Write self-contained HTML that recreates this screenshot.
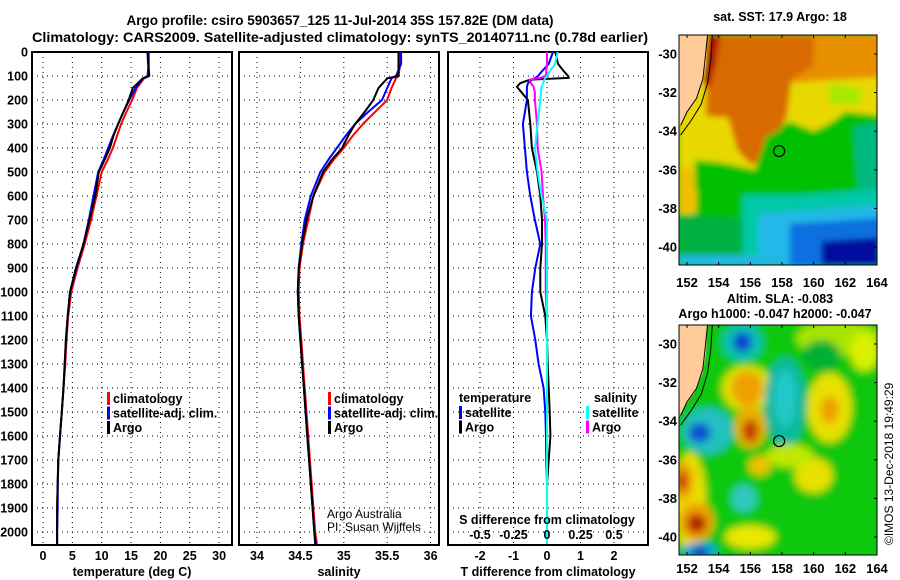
<!DOCTYPE html>
<html><head><meta charset="utf-8"><style>
html,body{margin:0;padding:0;background:#fff;}
svg{display:block;font-family:"Liberation Sans",Arial,sans-serif;font-weight:bold;}
</style></head><body>
<svg id="fig" width="900" height="580" viewBox="0 0 900 580" xmlns="http://www.w3.org/2000/svg">
<defs>
<filter id="blur3" x="-10%" y="-10%" width="120%" height="120%"><feGaussianBlur stdDeviation="3"/></filter>
<filter id="blur5" x="-20%" y="-20%" width="140%" height="140%"><feGaussianBlur stdDeviation="4"/></filter>
<clipPath id="clipTop"><rect x="679" y="35" width="198" height="230"/></clipPath>
<clipPath id="clipBot"><rect x="679" y="325" width="198" height="230"/></clipPath>
</defs>
<text x="340" y="25" font-size="13.5" text-anchor="middle">Argo profile: csiro 5903657_125 11-Jul-2014 35S 157.82E (DM data)</text>
<text x="340" y="42" font-size="13.5" text-anchor="middle" textLength="616" lengthAdjust="spacingAndGlyphs">Climatology: CARS2009. Satellite-adjusted climatology: synTS_20140711.nc (0.78d earlier)</text>
<g id="panels"></g>
<g id="maps"></g>
<text transform="translate(893,545) rotate(-90)" font-size="12" font-weight="normal">©IMOS 13-Dec-2018 19:49:29</text>
</svg>
<script>
// ---------- profile data ----------
const depths = [0,50,100,110,150,200,250,300,350,400,450,500,600,700,800,900,1000,1100,1200,1300,1400,1500,1600,1700,1800,1900,2000,2050];
const tempArgo = [17.8,17.9,18.1,17.0,15.3,14.6,13.7,12.8,12.0,11.4,10.5,9.5,8.9,7.9,6.9,5.6,4.6,4.2,3.9,3.7,3.5,3.2,2.9,2.6,2.5,2.4,2.4,2.4];
const tempClim = [17.9,18.0,18.1,17.2,16.0,15.2,14.2,13.3,12.6,11.9,11.0,10.0,9.1,8.2,7.1,5.9,4.8,4.3,4.0,3.8,3.5,3.2,2.9,2.6,2.5,2.4,2.4,2.4];
const tempSat  = [18.0,18.0,17.8,17.0,15.8,14.7,13.7,12.8,11.9,11.1,10.3,9.4,8.6,7.8,6.9,5.7,4.6,4.2,3.9,3.7,3.5,3.2,2.9,2.6,2.5,2.5,2.4,2.4];
const salArgo = [35.63,35.63,35.63,35.50,35.40,35.34,35.24,35.13,35.05,34.98,34.86,34.76,34.65,34.57,34.52,34.48,34.47,34.48,34.50,34.52,34.54,34.56,34.58,34.60,34.62,34.64,34.66,34.67];
const salClim = [35.65,35.65,35.63,35.60,35.55,35.50,35.36,35.22,35.10,35.00,34.88,34.78,34.65,34.59,34.53,34.49,34.48,34.49,34.51,34.53,34.55,34.57,34.59,34.61,34.63,34.65,34.67,34.69];
const salSat  = [35.66,35.66,35.60,35.55,35.50,35.44,35.28,35.13,35.02,34.92,34.82,34.73,34.62,34.55,34.51,34.48,34.47,34.48,34.50,34.52,34.54,34.56,34.58,34.60,34.62,34.64,34.66,34.68];
const diffDepths = [0,50,80,100,108,115,130,145,170,200,300,400,500,600,700,800,900,1000,1100,1200,1300,1400,1500,1600,1700,1800,1900,2000,2050];
const dTempArgo = [0.25,0.33,0.5,0.63,0.65,-0.5,-0.8,-0.9,-0.75,-0.57,-0.5,-0.45,-0.3,-0.2,-0.15,-0.15,-0.2,-0.2,-0.05,0,0.02,0.05,0.08,0.1,0.05,0,0,0,0];
const dTempSat  = [0.18,0.05,-0.15,-0.27,-0.35,-0.45,-0.57,-0.6,-0.6,-0.6,-0.72,-0.66,-0.6,-0.5,-0.36,-0.2,-0.35,-0.45,-0.48,-0.35,-0.25,-0.1,-0.05,-0.03,-0.02,0,0,0,0];
const dSalArgo  = [0,0,-0.005,-0.01,-0.05,-0.13,-0.12,-0.1,-0.09,-0.09,-0.075,-0.07,-0.04,-0.03,-0.015,-0.01,-0.01,-0.01,0,0,0,0,0,0,0,0,0,0,0];
const dSalSat   = [0.08,0.06,0.02,0,-0.01,-0.02,-0.03,-0.04,-0.045,-0.05,-0.07,-0.09,-0.07,-0.04,0,0,0,0,0,0,0,0,0,0,0,0,0,0,0];
const depthTicks = [0,100,200,300,400,500,600,700,800,900,1000,1100,1200,1300,1400,1500,1600,1700,1800,1900,2000];
const tempTicks = [0,5,10,15,20,25,30];
const salTicks = [34,34.5,35,35.5,36];
const salTickLabels = ["34","34.5","35","35.5","36"];
const dTempTicks = [-2,-1,0,1,2];
const dSalTicks = [-0.5,-0.25,0,0.25,0.5];
const dSalTickLabels = ["-0.5","-0.25","0","0.25","0.5"];

const NS="http://www.w3.org/2000/svg";
function mk(tag, attrs, parent){const e=document.createElementNS(NS,tag);for(const k in attrs)e.setAttribute(k,attrs[k]);parent.appendChild(e);return e;}
const yD = d => 52 + d*0.24;
const Y0=52, Y1=545;
const panels=document.getElementById('panels');

function panel(name, x0, x1, xScale, ticks, labels, xTitle, showY){
  const g=mk('g',{},panels);
  
  
  depthTicks.forEach(d=>{ if(d===0) return;
    const l=mk('line',{x1:x0,x2:x1,y1:yD(d),y2:yD(d),stroke:'#000','stroke-width':1,'stroke-dasharray':'1,4'},g);
    
    
  });
  ticks.forEach((t,i)=>{
    const x=xScale(t);
    const l=mk('line',{x1:x,x2:x,y1:Y0,y2:Y1,stroke:'#000','stroke-width':1,'stroke-dasharray':'1,4'},g);
    
    
    if(labels){
      const t2=mk('text',{x:x,y:560,'font-size':12.5,'text-anchor':'middle'},g);
      t2.textContent=labels[i];
      
      
    }
  });
  const fr=mk('rect',{x:x0,y:Y0,width:x1-x0,height:Y1-Y0,fill:'none',stroke:'#000','stroke-width':2},g);
  
  
  const tt=mk('text',{x:(x0+x1)/2,y:576,'font-size':12.5,'text-anchor':'middle'},g);
  tt.textContent=xTitle;
  
  
  if(showY){
    depthTicks.forEach(d=>{
      const t=mk('text',{x:28,y:yD(d)+4.5,'font-size':12.5,'text-anchor':'end'},g);
      t.textContent=String(d);
      
      
    });
  }
  return g;
}
function series(g, name, xs, ds, xScale, color){
  const pts=xs.map((v,i)=>xScale(v).toFixed(1)+','+yD(ds[i]).toFixed(1)).join(' ');
  const p=mk('polyline',{points:pts,fill:'none',stroke:color,'stroke-width':2,'stroke-linejoin':'round'},g);
  
  
}
function legend(g, x, y, items){
  items.forEach((it,i)=>{
    const yy=y+i*14.5;
    const r=mk('rect',{x:x,y:yy-10,width:3,height:13,fill:it[1]},g);
    
    
    if(it[0]){
      const t=mk('text',{x:x+6,y:yy+1,'font-size':12.5},g);
      t.textContent=it[0];
      
      
    }
  });
}

const xT = v => 43 + v*5.87;
const g1=panel('temperature-panel',32,232,xT,tempTicks,tempTicks.map(String),'temperature (deg C)',true);
series(g1,'temp-climatology-line',tempClim,depths,xT,'#f00');
series(g1,'temp-satellite-line',tempSat,depths,xT,'#00f');
series(g1,'temp-argo-line',tempArgo,depths,xT,'#000');
legend(g1,107,402,[['climatology','#f00'],['satellite-adj. clim.','#00f'],['Argo','#000']]);

const xS = v => 257 + (v-34)*86.8;
const g2=panel('salinity-panel',239,439,xS,salTicks,salTickLabels,'salinity',false);
series(g2,'sal-climatology-line',salClim,depths,xS,'#f00');
series(g2,'sal-satellite-line',salSat,depths,xS,'#00f');
series(g2,'sal-argo-line',salArgo,depths,xS,'#000');
legend(g2,328,402,[['climatology','#f00'],['satellite-adj. clim.','#00f'],['Argo','#000']]);
const cr1=mk('text',{x:327,y:518,'font-size':12,'font-weight':'normal'},g2);cr1.textContent='Argo Australia';


const cr2=mk('text',{x:327,y:531,'font-size':12,'font-weight':'normal'},g2);cr2.textContent='PI: Susan Wijffels';



const xDT = v => 547 + v*33.5;
const xDS = v => 547 + v*134;
const g3=panel('difference-panel',448,648,xDT,dTempTicks,dTempTicks.map(String),'T difference from climatology',false);
series(g3,'dtemp-satellite-line',dTempSat,diffDepths,xDT,'#00f');
series(g3,'dtemp-argo-line',dTempArgo,diffDepths,xDT,'#000');
series(g3,'dsal-argo-line',dSalArgo,diffDepths,xDS,'#f0f');
series(g3,'dsal-satellite-line',dSalSat,diffDepths,xDS,'#0ff');
(function(){
  const t=mk('text',{x:459,y:402,'font-size':12.5},g3);t.textContent='temperature';
  
  
  const s=mk('text',{x:594,y:402,'font-size':12.5},g3);s.textContent='salinity';
  
  
})();
legend(g3,459,416,[['satellite','#00f'],['Argo','#000']]);
legend(g3,586,416,[['satellite','#0ff'],['Argo','#f0f']]);
(function(){
  const t=mk('text',{x:547,y:524,'font-size':12.5,'text-anchor':'middle'},g3);t.textContent='S difference from climatology';
  
  
  dSalTicks.forEach((v,i)=>{
    const l=mk('text',{x:xDS(v),y:539,'font-size':12.5,'text-anchor':'middle'},g3);l.textContent=dSalTickLabels[i];
    
    
  });
})();

// ---------- maps ----------
const maps=document.getElementById('maps');
const lonTicks=[152,154,156,158,160,162,164];
const latTicks=[-30,-32,-34,-36,-38,-40];
const sstPolys=[
 ['#e8d800',[[151.5,-29],[164.2,-29],[164.2,-33.2],[162,-33],[161,-33.6],[160,-34],[158.5,-33.5],[157,-34],[156.3,-36],[154,-35.6],[152.5,-35.5],[152.5,-38.3],[151.5,-38.3]]],
 ['#f0c000',[[151.5,-35.8],[152.6,-36],[152.6,-38.2],[151.5,-38.2]]],
 ['#e89000',[[158,-29],[164.2,-29],[164.2,-31.2],[160,-31.4],[158.5,-31.5]]],
 ['#d86a00',[[153.3,-29],[160,-29],[160,-30.6],[158.6,-31.3],[158.3,-33.2],[157.6,-34.4],[157,-35.6],[156,-35.7],[155.2,-35],[154.6,-33.3],[153.2,-33.2]]],
 ['#b01000',[[153.3,-29],[154.1,-29],[153.8,-30.5],[153.4,-31.8],[153.0,-31.5]]],
 ['#a8e800',[[161,-31.5],[163,-31.8],[163,-32.6],[161,-32.6]]],
 ['#00c000',[[152.5,-35.8],[156.2,-36.2],[157,-34.3],[158.5,-33.6],[160,-34.2],[161,-33.8],[162,-33.2],[164.2,-33.4],[164.2,-37.5],[159,-38],[156,-37.5],[153.5,-37],[152.5,-37]]],
 ['#00b880',[[162.5,-33.8],[164.2,-33.5],[164.2,-37.5],[162.8,-37.5]]],
 ['#00c8a8',[[155.5,-37.3],[159,-37.3],[164.2,-37],[164.2,-41],[155.5,-41]]],
 ['#20b8e8',[[156.5,-38.3],[164.2,-37.8],[164.2,-41],[156.5,-41]]],
 ['#1070e0',[[158.5,-38.8],[164.2,-38.5],[164.2,-41],[158.5,-41]]],
 ['#0010a0',[[160.5,-39.7],[164.2,-39.5],[164.2,-41],[160.5,-41]]],
 ['#20b8e0',[[151.5,-40.4],[158,-40.4],[158,-41],[151.5,-41]]],
 ['#00b040',[[151.5,-38.3],[155.5,-38.5],[155.5,-40.4],[151.5,-40.4]]]
];
const slaBlobs=[
 [161.5,-29.7,2.6,0.9,'#a8e400'],[163.2,-30.4,0.9,1.0,'#d8f000'],[160.5,-30.6,1.2,0.8,'#00b030'],
 [155.5,-29.9,1.3,1.0,'#10c0b0'],[155.5,-29.9,0.6,0.5,'#1040d0'],
 [155.8,-32.3,1.6,1.2,'#e0e000'],[155.8,-32.3,1.0,0.9,'#f0a000'],
 [156,-34.3,1.0,1.1,'#e8b000'],[156,-34.5,0.5,0.6,'#c04000'],
 [158.2,-33,1.3,2.3,'#10b8a0'],[158.2,-32.8,0.7,1.5,'#20c8c8'],
 [153.3,-34.5,1.6,1.2,'#20c0c0'],[152.8,-34.6,0.7,0.5,'#1050d0'],
 [152.2,-38.2,1.0,2.6,'#e8e000'],[151.8,-37.1,0.6,1.0,'#f0a000'],[151.7,-37.1,0.3,0.5,'#c02000'],
 [152.6,-39.2,1.1,1.0,'#f0a000'],[152.6,-39.3,0.6,0.5,'#b02000'],
 [161,-33.3,1.4,1.8,'#e8e000'],[161,-33.4,0.6,0.7,'#f0a000'],
 [160,-36.8,1.2,0.9,'#e8e000'],[156.6,-36.3,0.7,0.5,'#f0c000'],
 [155.6,-38,0.8,0.7,'#30c8c0'],[156,-40,1.6,0.6,'#e8e800'],[158.5,-35.8,1.5,0.6,'#c0e800'],
 [152.8,-40.7,1.1,0.4,'#10a0e0'],[152.8,-40.8,0.5,0.3,'#1030c0']
];
const landPoly=[[151.4,-28.9],[153.3,-28.9],[153.2,-30.5],[153.0,-31.5],[152.5,-32.5],[151.9,-33.2],[151.4,-33.9]];
const coastLine=[[153.3,-29],[153.15,-30.2],[153.0,-31.3],[152.6,-32.3],[152.0,-33.0],[151.6,-33.7]];
const shelfLine=[[153.6,-29],[153.5,-30.3],[153.3,-31.5],[152.9,-32.6],[152.3,-33.4],[151.6,-34.2]];
const argoLon=157.82, argoLat=-35.03;

function drawMap(name, top, clipId, title1, title2, kind, labelY){
  const g=mk('g',{},maps);
  
  
  const px = lon => 687 + (lon-152)*15.83;
  const py = lat => top + 19 + (-lat-30)*19.3;
  const inner=mk('g',{'clip-path':'url(#'+clipId+')'},g);
  const fill=mk('g',{filter: kind==='sst'?'url(#blur3)':'url(#blur5)'},inner);
  if(kind==='sst'){
    mk('rect',{x:670,y:top-10,width:220,height:250,fill:'#00c000'},fill);
    sstPolys.forEach(p=>{
      const e=mk('polygon',{points:p[1].map(q=>px(q[0])+','+py(q[1])).join(' '),fill:p[0]},fill);
      
      
    });
  } else {
    mk('rect',{x:670,y:top-10,width:220,height:250,fill:'#10c810'},fill);
    slaBlobs.forEach(b=>{
      const e=mk('ellipse',{cx:px(b[0]),cy:py(b[1]),rx:b[2]*15.83,ry:b[3]*19.3,fill:b[4]},fill);
      
      
    });
  }
  const land=mk('polygon',{points:landPoly.map(q=>px(q[0])+','+py(q[1])).join(' '),fill:'#ffcc99'},inner);
  
  
  [coastLine,shelfLine].forEach(L=>{
    const l=mk('polyline',{points:L.map(q=>px(q[0])+','+py(q[1])).join(' '),fill:'none',stroke:'#000','stroke-width':1},inner);
    
    
  });
  const c=mk('circle',{cx:px(argoLon),cy:py(argoLat),r:5.5,fill:'none',stroke:'#000','stroke-width':1.2},g);
  
  
  const fr=mk('rect',{x:679,y:top,width:198,height:230,fill:'none',stroke:'#000','stroke-width':1},g);
  
  
  lonTicks.forEach(l=>{
    mk('line',{x1:px(l),x2:px(l),y1:top,y2:top+3,stroke:'#000'},g);
    mk('line',{x1:px(l),x2:px(l),y1:top+227,y2:top+230,stroke:'#000'},g);
    const t=mk('text',{x:px(l),y:labelY,'font-size':13,'text-anchor':'middle'},g);t.textContent=String(l);
    
    
  });
  latTicks.forEach(l=>{
    mk('line',{x1:874,x2:877,y1:py(l),y2:py(l),stroke:'#000'},g);
    const t=mk('text',{x:677,y:py(l)+4.5,'font-size':13,'text-anchor':'end'},g);t.textContent=String(l);
    
    
  });
  const t1=mk('text',{x:780,y:title2?top-22:top-14,'font-size':12.5,'text-anchor':'middle'},g);t1.textContent=title1;
  
  
  if(title2){
    const t2=mk('text',{x:775,y:top-7,'font-size':12.5,'text-anchor':'middle'},g);t2.textContent=title2;
    
    
  }
}
drawMap('sst-map',35,'clipTop','sat. SST: 17.9 Argo: 18',null,'sst',287);
drawMap('sla-map',325,'clipBot','Altim. SLA: -0.083','Argo h1000: -0.047 h2000: -0.047','sla',573);
</script>
</body></html>
